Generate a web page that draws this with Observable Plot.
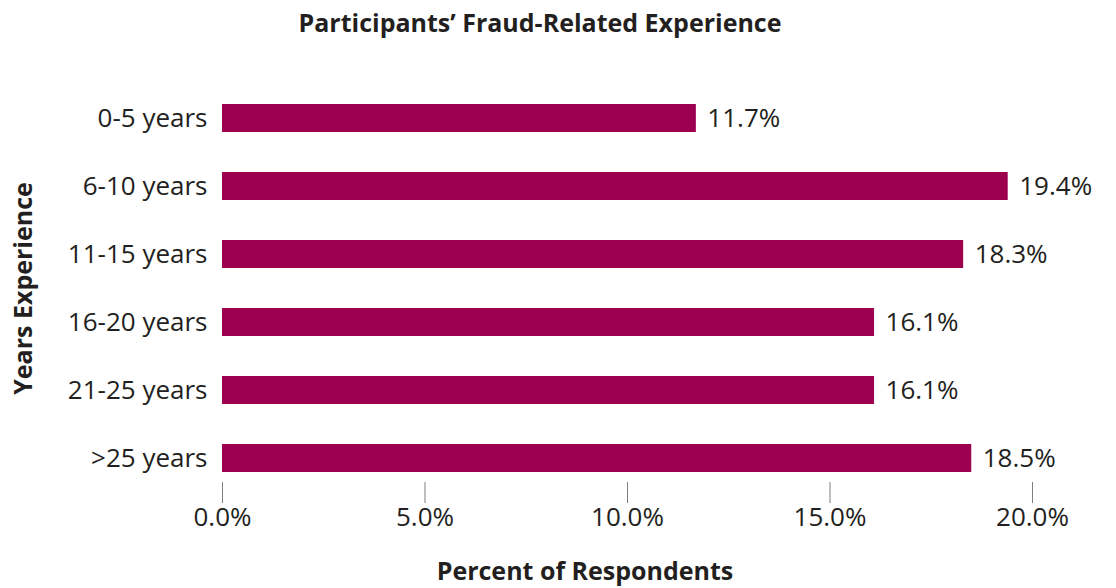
<!DOCTYPE html>
<html>
<head>
<meta charset="utf-8">
<script src="https://cdn.jsdelivr.net/npm/d3@7"></script>
<script src="https://cdn.jsdelivr.net/npm/@observablehq/plot@0.6"></script>
<style>
  html, body { margin: 0; padding: 0; background: #fff; }
  #wrap { width: 1116px; height: 588px; overflow: hidden; font-family: "Open Sans", sans-serif; color: #231f20; }
  #title { height: 48px; line-height: 44px; text-align: center; font-weight: bold; font-size: 25px; padding-right: 36px; box-sizing: border-box; }
  #xlabel { height: 35px; line-height: 35px; text-align: center; font-weight: bold; font-size: 25px; padding-left: 54px; box-sizing: border-box; }
  svg { display: block; }
</style>
</head>
<body>
<div id="wrap">
  <div id="title">Participants’ Fraud-Related Experience</div>
  <div id="chart"></div>
  <div id="xlabel">Percent of Respondents</div>
</div>
<script>
const categories = ["0-5 years", "6-10 years", "11-15 years", "16-20 years", "21-25 years", ">25 years"];
const values = [11.7, 19.4, 18.3, 16.1, 16.1, 18.5];
const xTicks = [0, 5, 10, 15, 20];
const yLabel = "Years Experience";

const data = categories.map((c, i) => ({cat: c, value: values[i]}));
const pct = d => d.toFixed(1) + "%";

const chart = Plot.plot({
  width: 1116,
  height: 505,
  marginLeft: 222,
  marginRight: 84,
  marginTop: 46,
  marginBottom: 71,
  style: {fontFamily: "Open Sans", color: "#231f20", background: "white", overflow: "visible"},
  x: {domain: [0, 20]},
  y: {domain: categories, paddingInner: 0.592, paddingOuter: 0.1225},
  marks: [
    Plot.barX(data, {x: "value", y: "cat", fill: "#9E0050"}),
    Plot.text(data, {x: "value", y: "cat", text: d => pct(d.value), textAnchor: "start", dx: 11, fontSize: 26, fill: "#231f20"}),
    Plot.axisY({tickSize: 0, tickPadding: 15, fontSize: 26, fill: "#231f20", label: null}),
    Plot.axisY({tickSize: 0, tickFormat: () => "", label: yLabel, labelAnchor: "center", labelOffset: 208, fontSize: 25, fontWeight: "bold", fill: "#231f20"}),
    Plot.axisX({ticks: xTicks, tickFormat: pct, tickSize: 21, tickPadding: 4, fontSize: 26, stroke: "#7f7f7f", fill: "#231f20", label: null})
  ]
});
document.getElementById("chart").appendChild(chart);
</script>
</body>
</html>
